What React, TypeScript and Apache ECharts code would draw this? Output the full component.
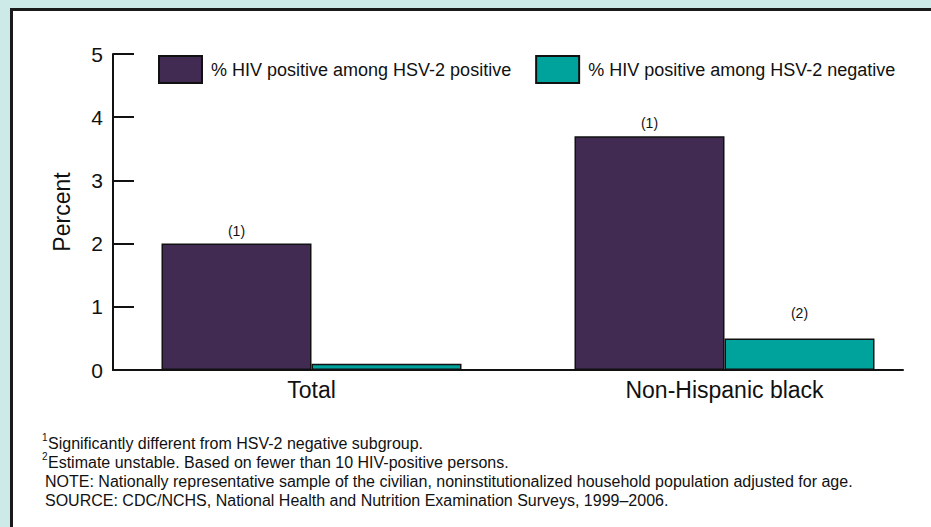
import React, { useEffect, useRef } from "react";
import * as echarts from "echarts";

const categories = ["Total", "Non-Hispanic black"];
const hsv2Positive = [2.0, 3.7];
const hsv2Negative = [0.1, 0.5];
const positiveNotes = ["(1)", "(1)"];
const negativeNotes = ["", "(2)"];
const seriesNames = [
  "% HIV positive among HSV-2 positive",
  "% HIV positive among HSV-2 negative",
];
const footnotes = [
  { sup: "1", text: "Significantly different from HSV-2 negative subgroup." },
  { sup: "2", text: "Estimate unstable. Based on fewer than 10 HIV-positive persons." },
  { sup: "", text: "NOTE: Nationally representative sample of the civilian, noninstitutionalized household population adjusted for age." },
  { sup: "", text: "SOURCE: CDC/NCHS, National Health and Nutrition Examination Surveys, 1999\u20132006." },
];

const FONT = "'Liberation Sans', Arial, Helvetica, sans-serif";
const PURPLE = "#412b52";
const TEAL = "#00a29c";

export default function App() {
  const ref = useRef<HTMLDivElement>(null);

  useEffect(() => {
    document.body.style.margin = "0";
    document.documentElement.style.overflow = "hidden";
    if (!ref.current) return;
    const chart = echarts.init(ref.current, null, { renderer: "svg" });

    const footGraphics: any[] = [];
    footnotes.forEach((f, i) => {
      const cy = 443 + i * 19;
      if (f.sup) {
        footGraphics.push({
          type: "text",
          left: 42,
          top: cy - 11,
          style: { text: f.sup, font: `10px ${FONT}`, fill: "#111" },
        });
      }
      footGraphics.push({
        type: "text",
        left: f.sup ? 48 : 45,
        top: cy - 8,
        style: { text: f.text, font: `16px ${FONT}`, fill: "#111" },
      });
    });

    const labelFor = (note: string, distance: number) => ({
      show: note !== "",
      position: "top",
      distance,
      formatter: note,
      color: "#111",
      fontSize: 14,
      fontFamily: FONT,
    });

    chart.setOption({
      animation: false,
      textStyle: { fontFamily: FONT },
      legend: {
        left: 153,
        top: 50,
        itemWidth: 43,
        itemHeight: 27,
        itemGap: 24,
        icon: "rect",
        selectedMode: false,
        textStyle: { fontSize: 18, color: "#111", fontFamily: FONT, padding: [0, 0, 0, 4] },
        data: seriesNames,
      },
      grid: [
        { left: 113, right: 28, top: 54, bottom: 157 },
        { left: 105, right: -2, top: 54, bottom: 157 },
      ],
      xAxis: [
        {
          type: "category",
          gridIndex: 0,
          data: categories,
          axisLine: { show: true, lineStyle: { color: "#111", width: 2 } },
          axisTick: { show: false },
          axisLabel: { show: false },
        },
        {
          type: "category",
          gridIndex: 1,
          data: categories,
          axisLine: { show: false },
          axisTick: { show: false },
          axisLabel: { fontSize: 23, color: "#111", margin: 8, fontFamily: FONT },
        },
      ],
      yAxis: [
        {
          type: "value",
          gridIndex: 0,
          min: 0,
          max: 5,
          interval: 1,
          name: "Percent",
          nameLocation: "middle",
          nameGap: 40,
          nameRotate: 90,
          nameTextStyle: { fontSize: 23, color: "#111", fontFamily: FONT },
          axisLine: { show: true, lineStyle: { color: "#111", width: 2 } },
          axisTick: { show: true, inside: true, length: 21, lineStyle: { color: "#111", width: 2 } },
          axisLabel: { fontSize: 21, color: "#111", margin: 10, fontFamily: FONT },
          splitLine: { show: false },
        },
        {
          type: "value",
          gridIndex: 1,
          min: 0,
          max: 5,
          interval: 1,
          show: false,
          splitLine: { show: false },
        },
      ],
      series: [
        {
          name: seriesNames[0],
          type: "bar",
          xAxisIndex: 1,
          yAxisIndex: 1,
          barWidth: 150,
          barGap: "0%",
          itemStyle: { color: PURPLE, borderColor: "#111", borderWidth: 1.5 },
          data: hsv2Positive.map((v, i) => ({ value: v, label: labelFor(positiveNotes[i], 6) })),
        },
        {
          name: seriesNames[1],
          type: "bar",
          xAxisIndex: 1,
          yAxisIndex: 1,
          barWidth: 150,
          barGap: "0%",
          itemStyle: { color: TEAL, borderColor: "#111", borderWidth: 1.5 },
          data: hsv2Negative.map((v, i) => ({ value: v, label: labelFor(negativeNotes[i], 18) })),
        },
      ],
      graphic: footGraphics,
    });

    return () => chart.dispose();
  }, []);

  return (
    <div
      style={{
        position: "fixed",
        left: 0,
        top: 0,
        width: "100vw",
        height: "100vh",
        background: "#cdeae8",
        overflow: "hidden",
      }}
    >
      <div
        style={{
          position: "absolute",
          left: 10,
          top: 8,
          right: -20,
          bottom: -20,
          border: "3px solid #1a1a1a",
          background: "#ffffff",
        }}
      />
      <div ref={ref} style={{ position: "absolute", left: 0, top: 0, width: 931, height: 527 }} />
    </div>
  );
}
